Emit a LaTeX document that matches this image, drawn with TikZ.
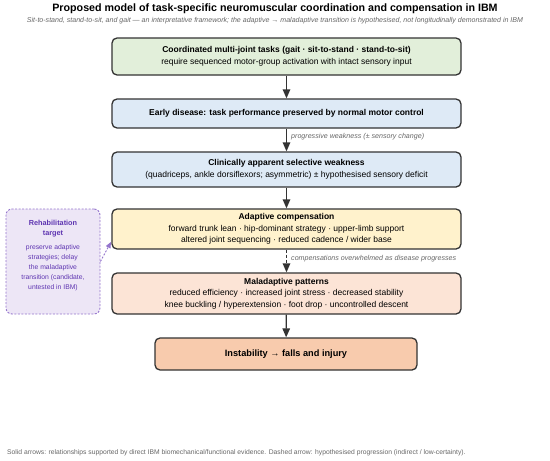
\documentclass[tikz,border=0pt]{standalone}
\usepackage{fontspec}
\setmainfont{Liberation Sans}
\usetikzlibrary{arrows.meta}
\definecolor{bordc}{HTML}{333333}
\definecolor{greenf}{HTML}{E2EFDA}
\definecolor{bluef}{HTML}{DEEAF6}
\definecolor{yellowf}{HTML}{FFF2CC}
\definecolor{peachf}{HTML}{FCE4D6}
\definecolor{orangef}{HTML}{F8CBAD}
\definecolor{purplef}{HTML}{EDE6F6}
\definecolor{purpled}{HTML}{9575CD}
\definecolor{purplet}{HTML}{5E35B1}
\definecolor{graytxt}{HTML}{666666}
\tikzset{
  box/.style={draw=bordc, line width=1.3pt, rounded corners=5pt, align=center, inner sep=0pt, minimum width=349pt},
  bodytxt/.style={font=\fontsize{8.5}{11.5}\selectfont},
  arr/.style={draw=bordc, line width=1.3pt, -{Triangle[length=9pt,width=7.5pt]}},
  note/.style={font=\fontsize{7.1}{8}\selectfont\itshape, text=graytxt, anchor=west, inner sep=0pt},
}
\begin{document}
\begin{tikzpicture}[x=1pt,y=-1pt]
\useasboundingbox (0,0) rectangle (550,461);
\node[font=\fontsize{10.7}{13}\selectfont\bfseries, text=black] (title) at (275,9) {Proposed model of task-specific neuromuscular coordination and compensation in IBM};
\node[font=\fontsize{7.05}{8}\selectfont\itshape, text=graytxt] (sub) at (275,21) {Sit-to-stand, stand-to-sit, and gait — an interpretative framework; the adaptive → maladaptive transition is hypothesised, not longitudinally demonstrated in IBM};

\node[box, fill=greenf, minimum height=37pt, bodytxt] (b1) at (286.5,56.5) {\textbf{Coordinated multi-joint tasks (gait · sit-to-stand · stand-to-sit)}\\require sequenced motor-group activation with intact sensory input};
\node[box, fill=bluef, minimum height=29pt, bodytxt] (b2) at (286.5,113.5) {\textbf{Early disease: task performance preserved by normal motor control}};
\node[box, fill=bluef, minimum height=35pt, bodytxt] (b3) at (286.5,169.5) {\textbf{Clinically apparent selective weakness}\\(quadriceps, ankle dorsiflexors; asymmetric) ± hypothesised sensory deficit};
\node[box, fill=yellowf, minimum height=40pt, bodytxt] (b4) at (286.5,229) {\textbf{Adaptive compensation}\\forward trunk lean · hip-dominant strategy · upper-limb support\\altered joint sequencing · reduced cadence / wider base};
\node[box, fill=peachf, minimum height=41pt, bodytxt] (b5) at (286.5,293.5) {\textbf{Maladaptive patterns}\\reduced efficiency · increased joint stress · decreased stability\\knee buckling / hyperextension · foot drop · uncontrolled descent};
\node[box, fill=orangef, minimum height=32pt, minimum width=262pt, font=\fontsize{9.2}{11}\selectfont\bfseries] (b6) at (286,354) {Instability → falls and injury};

\node[draw=purpled, line width=0.9pt, dash pattern=on 2pt off 1.5pt, rounded corners=6pt, fill=purplef, minimum width=94pt, minimum height=105pt, inner sep=0pt] (side) at (53,261.5) {};
\node[text=purplet, align=center, font=\fontsize{7.3}{10.5}\selectfont\bfseries] (sidet) at (53,228.5) {Rehabilitation\\target};
\node[text=purplet, align=center, font=\fontsize{6.8}{10}\selectfont] (sideb) at (53,267.5) {preserve adaptive\\strategies; delay\\the maladaptive\\transition (candidate,\\untested in IBM)};

\draw[arr] (b1) -- (b2);
\draw[arr] (b2) -- (b3);
\draw[arr] (b3) -- (b4);
\draw[arr, dash pattern=on 3pt off 2pt] (b4) -- (b5);
\draw[arr] (b5) -- (b6);
\coordinate (tgt) at (111,242);
\draw[draw=purpled, line width=0.9pt, dash pattern=on 2pt off 1.5pt, -{Triangle[length=6pt,width=5pt]}] (side.east) -- (tgt);

\node[note] (n1) at (291,137) {progressive weakness (± sensory change)};
\node[note] (n2) at (291,259) {compensations overwhelmed as disease progresses};

\node[font=\fontsize{6.75}{8}\selectfont, text=graytxt, anchor=west, inner sep=0pt] (foot) at (7,453) {Solid arrows: relationships supported by direct IBM biomechanical/functional evidence. Dashed arrow: hypothesised progression (indirect / low-certainty).};
\end{tikzpicture}
\end{document}
